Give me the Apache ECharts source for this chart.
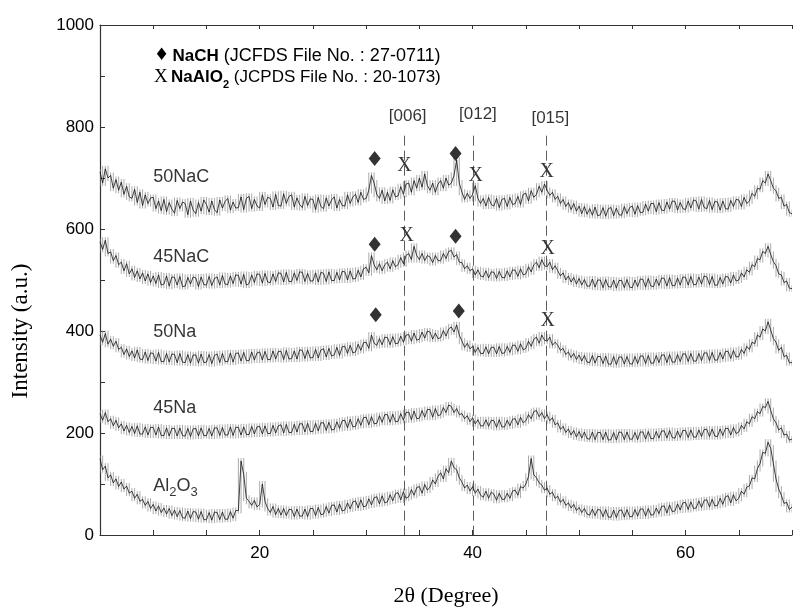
<!DOCTYPE html>
<html><head><meta charset="utf-8">
<script src="https://cdn.jsdelivr.net/npm/echarts@6/dist/echarts.min.js"></script>
<style>html,body{margin:0;padding:0;background:#fff}#c{width:795px;height:612px}</style>
</head><body><div id="c"></div>
<script>
// sampling grid of the patterns (2-theta, degrees)
const X0 = 5, STEP = 0.25;

const s50NaC = [
712,690,718,700, 705,680,697,676, 692,668,684,663, 660,678,652,672, 646,667,650,661,
662,640,655,636, 658,634,652,639, 631,656,640,653, 650,628,655,637, 630,652,635,657,
648,633,655,638, 632,657,641,654, 660,637,653,641, 642,663,638,660, 664,640,658,645,
641,667,648,662, 660,643,668,646, 645,669,650,664, 667,643,661,648, 642,664,646,659,
658,638,662,644, 640,661,645,657, 663,641,658,646, 645,667,650,663, 668,652,672,658,
660,676,705,690, 668,660,676,655, 672,656,677,663, 665,683,668,688, 690,672,695,680,
700,682,708,685, 676,690,672,688, 695,680,700,686, 690,705,735,690, 672,658,670,660,
668,685,660,650, 660,645,662,648, 645,660,642,658, 660,644,662,648, 650,664,648,668,
670,655,675,662, 668,684,672,688, 676,666,672,658, 664,650,658,644, 652,638,650,635,
645,630,644,629, 640,627,643,626, 628,642,625,640, 642,626,641,628, 627,644,630,642,
645,629,646,632, 633,649,635,650, 650,634,652,637, 636,653,639,655, 654,637,652,640,
638,655,641,657, 655,639,658,642, 640,656,638,654, 653,637,655,640, 639,656,644,658,
657,644,662,650, 655,670,664,680, 678,695,690,708, 695,680,675,660, 662,645,648,632,
630];

const s45NaC = [
575,560,578,552, 555,538,548,530, 535,518,532,512, 522,505,518,502, 514,498,512,495,
508,493,510,490, 492,508,488,506, 505,490,507,487, 488,505,492,506, 504,487,506,491,
490,507,489,503, 506,490,509,492, 491,508,493,510, 509,492,511,490, 493,510,495,512,
511,494,513,496, 495,512,497,514, 513,496,515,497, 497,514,499,516, 515,497,513,498,
498,514,496,515, 513,497,516,499, 499,515,500,517, 516,500,518,502, 503,519,506,522,
525,514,548,530, 520,532,518,530, 535,522,538,526, 530,544,532,548, 552,540,566,548,
540,552,538,548, 545,534,548,538, 538,552,542,556, 558,545,550,535, 534,522,528,518,
522,510,520,508, 506,518,504,516, 515,503,517,505, 504,518,506,520, 519,507,522,510,
512,526,516,530, 535,524,540,528, 526,535,520,528, 518,508,514,500, 508,496,505,492,
503,490,501,488, 488,502,486,500, 500,485,501,487, 486,500,484,499, 499,485,501,486,
485,500,487,502, 501,486,503,488, 487,502,489,504, 503,488,505,489, 489,504,490,506,
505,490,507,491, 491,506,492,508, 506,491,507,490, 490,505,492,507, 506,494,510,498,
500,514,506,520, 515,530,526,542, 540,556,552,566, 550,536,528,512, 510,495,498,484,
483];

const s50Na = [
392,378,395,374, 384,370,380,364, 368,354,365,350, 361,347,363,345, 344,359,342,357,
356,341,358,340, 340,356,339,355, 354,338,356,339, 338,354,337,353, 353,337,355,338,
339,354,336,352, 355,338,356,340, 340,357,339,356, 357,341,358,342, 342,359,343,357,
359,343,360,344, 344,361,345,360, 360,344,362,345, 346,361,345,363, 362,346,363,347,
348,364,347,363, 365,349,366,351, 353,368,352,369, 370,356,372,357, 359,374,362,377,
378,366,392,376, 372,385,373,388, 387,373,389,375, 376,390,378,392, 393,380,396,382,
384,398,386,400, 398,384,396,385, 387,401,390,404, 408,398,412,392, 380,368,376,365,
370,358,368,356, 356,369,355,368, 368,355,370,356, 357,370,358,372, 372,360,375,363,
366,380,370,384, 388,376,392,382, 380,388,372,378, 372,362,366,354, 359,348,356,344,
353,341,352,339, 338,352,337,350, 350,336,351,335, 335,350,334,349, 349,335,350,336,
335,350,336,351, 351,336,352,337, 337,352,338,353, 353,338,354,339, 339,354,340,355,
355,340,356,341, 341,356,342,357, 357,342,358,343, 343,358,345,360, 360,346,362,349,
350,364,356,370, 364,378,375,392, 388,404,400,418, 402,385,378,362, 368,350,352,338,
338];

const s45Na = [
238,225,240,222, 228,214,225,210, 218,204,215,201, 213,199,214,198, 198,212,196,211,
211,196,212,195, 195,210,194,209, 209,194,210,195, 194,209,193,208, 209,194,210,195,
195,209,194,210, 210,195,211,196, 196,212,195,211, 211,196,212,197, 197,213,198,212,
213,198,214,199, 199,215,200,214, 216,200,217,201, 201,217,202,218, 218,202,219,203,
203,219,204,220, 220,205,221,206, 207,222,209,224, 225,210,227,212, 213,228,215,230,
231,216,232,218, 219,234,221,236, 236,221,237,222, 223,238,225,240, 241,226,243,228,
229,244,231,246, 246,231,248,234, 236,250,240,255, 252,240,248,236, 238,228,234,222,
230,218,226,214, 214,226,213,225, 224,211,226,212, 212,225,214,227, 228,216,231,220,
224,236,228,242, 244,232,240,228, 236,224,230,216, 220,207,213,201, 208,196,205,192,
203,190,202,189, 188,202,187,201, 201,187,202,186, 187,201,186,202, 201,187,202,188,
188,201,187,202, 202,188,203,189, 189,203,190,204, 204,190,205,191, 190,204,191,205,
205,191,206,192, 192,206,193,207, 207,193,208,194, 193,208,195,209, 209,196,211,199,
202,215,208,222, 218,232,228,242, 238,252,250,262, 244,228,220,206, 210,196,198,186,
188];

const sAl2O3 = [
150,128,135,112, 118,102,110,95, 104,90,96,82, 86,72,80,66, 70,58,66,52,
60,47,57,44, 53,41,52,38, 49,36,48,34, 33,47,32,46, 45,31,46,30,
30,44,29,45, 44,30,45,31, 31,46,33,48, 48,145,118,72, 66,58,68,55,
60,100,66,52, 44,56,40,52, 39,52,38,50, 50,36,51,37, 37,51,36,52,
52,38,54,40, 41,56,43,58, 59,45,61,47, 49,63,51,65, 67,53,69,55,
57,71,59,73, 75,61,77,63, 65,79,67,81, 83,69,85,72, 75,89,78,93,
95,82,99,88, 94,108,100,115, 122,110,130,122, 145,132,128,112, 104,92,98,86,
95,82,90,78, 74,86,72,84, 80,68,82,70, 70,82,72,86, 88,78,95,92,
100,115,150,118, 112,102,98,88, 92,80,84,72, 76,64,70,58, 63,53,60,48,
54,44,52,41, 39,51,38,50, 49,36,50,35, 35,49,34,48, 49,35,50,36,
36,50,37,51, 51,37,52,39, 40,53,42,56, 57,43,59,46, 47,61,49,63,
64,50,65,52, 53,67,54,68, 69,55,70,57, 58,72,60,75, 77,63,79,67,
72,86,80,94, 96,112,110,130, 140,162,160,182, 170,140,110,90, 78,62,64,50,
55];

const sampleNames = ['50NaC', '45NaC', '50Na', '45Na', 'Al2O3'];
const sampleLabelPos = [[10, 702], [10, 546], [10, 398], [10, 248], [10, 96]];
const nachMarks = [[30.8, 738], [38.4, 748], [30.8, 570], [38.4, 586], [30.9, 432], [38.7, 439]];
const naalo2Marks = [[33.6, 725], [40.3, 705], [46.95, 713], [33.8, 586], [47.05, 562], [47.05, 420]];
const refLinesX = [33.6, 40.1, 46.95];
const refLineTop = 783;
const refLabels = ['[006]', '[012]', '[015]'];
const refLabelPos = [[33.9, 820], [40.5, 824], [47.3, 818]];
const yTickLabels = [0, 200, 400, 600, 800, 1000];
const xTickLabels = [20, 40, 60];

const SANS = '"Liberation Sans", Arial, sans-serif';
const SERIF = '"Liberation Serif", "Times New Roman", serif';

const toPairs = arr => arr.map((v, i) => [X0 + i * STEP, v]);
const patterns = [s50NaC, s45NaC, s50Na, s45Na, sAl2O3];

const chart = echarts.init(document.getElementById('c'), null, {renderer: 'canvas'});

// grey vertical hatch strokes (scan noise look) drawn at every sample
const hatchSeries = patterns.map((arr, k) => ({
  type: 'custom', name: sampleNames[k] + '-hatch', silent: true, animation: false, z: 1,
  clip: true,
  data: toPairs(arr),
  renderItem: (params, api) => {
    const i = params.dataIndex;
    const p = api.coord([api.value(0), api.value(1)]);
    const prev = arr[Math.max(0, i - 1)], next = arr[Math.min(arr.length - 1, i + 1)];
    const hi = api.coord([api.value(0), Math.max(arr[i], prev, next)]);
    const lo = api.coord([api.value(0), Math.min(arr[i], prev, next)]);
    return {
      type: 'line', silent: true,
      shape: {x1: p[0], y1: hi[1] - 3, x2: p[0], y2: lo[1] + 3},
      style: {stroke: '#959595', lineWidth: 0.8}
    };
  }
}));

const lineSeries = patterns.map((arr, k) => ({
  type: 'line', name: sampleNames[k], data: toPairs(arr), showSymbol: false, symbol: 'none',
  sampling: null, silent: true, animation: false, z: 2,
  lineStyle: {color: '#111', width: 0.8}
}));

const axisLineStyle = {color: '#333', width: 1.2};

const option = {
  animation: false,
  backgroundColor: '#fff',
  grid: {left: 100, right: -3, top: 25, bottom: 75, containLabel: false},
  xAxis: [{
    type: 'value', min: 5, max: 70, interval: 5,
    axisLine: {show: true, lineStyle: axisLineStyle},
    axisTick: {show: true, inside: true, length: 5, lineStyle: {color: '#333'}},
    splitLine: {show: false},
    axisLabel: {
      fontFamily: SANS, fontSize: 17, color: '#000', margin: 10,
      formatter: v => (xTickLabels.indexOf(v) >= 0 ? String(v) : '')
    },
    name: '2θ (Degree)', nameLocation: 'middle', nameGap: 50,
    nameTextStyle: {fontFamily: SERIF, fontSize: 22, color: '#000'}
  }, {
    type: 'value', min: 5, max: 70, interval: 5, position: 'top',
    axisLine: {show: true, lineStyle: axisLineStyle},
    axisTick: {show: true, inside: true, length: 4, lineStyle: {color: '#333'}},
    axisLabel: {show: false}, splitLine: {show: false}
  }],
  yAxis: {
    type: 'value', min: 0, max: 1000, interval: 100,
    axisLine: {show: true, lineStyle: axisLineStyle},
    axisTick: {show: true, inside: true, length: 5, lineStyle: {color: '#333'}},
    splitLine: {show: false},
    axisLabel: {
      fontFamily: SANS, fontSize: 17, color: '#000', margin: 6,
      formatter: v => (yTickLabels.indexOf(v) >= 0 ? String(v) : '')
    }
  },
  graphic: [
    {
      type: 'text', x: 21, y: 331, rotation: Math.PI / 2,
      style: {text: 'Intensity (a.u.)', fontFamily: SERIF, fontSize: 23, fill: '#000',
        align: 'center', verticalAlign: 'middle'}
    },
    {
      type: 'text', x: 154, y: 44,
      style: {
        text: '{d|♦} {b|NaCH}{n| (JCFDS File No. : 27-0711)}',
        rich: {
          d: {fontFamily: 'DejaVu Sans', fontSize: 17, fill: '#000', lineHeight: 24, verticalAlign: 'middle'},
          b: {fontFamily: SANS, fontSize: 17, fontWeight: 'bold', fill: '#000', lineHeight: 24, verticalAlign: 'middle'},
          n: {fontFamily: SANS, fontSize: 18, fill: '#000', lineHeight: 24, verticalAlign: 'middle'}
        }
      }
    },
    {
      type: 'text', x: 154, y: 64,
      style: {
        text: '{x|X} {b|NaAlO}{s|2}{n| (JCPDS File No. : 20-1073)}',
        rich: {
          x: {fontFamily: SERIF, fontSize: 19, fill: '#000', lineHeight: 26, verticalAlign: 'middle'},
          b: {fontFamily: SANS, fontSize: 17, fontWeight: 'bold', fill: '#000', lineHeight: 26, verticalAlign: 'middle'},
          s: {fontFamily: SANS, fontSize: 11, fontWeight: 'bold', fill: '#000', lineHeight: 10, verticalAlign: 'bottom'},
          n: {fontFamily: SANS, fontSize: 17, fill: '#000', lineHeight: 26, verticalAlign: 'middle'}
        }
      }
    }
  ],
  series: [
    ...hatchSeries,
    ...lineSeries,
    {
      type: 'scatter', name: 'labels', silent: true, symbolSize: 0, z: 3,
      data: sampleLabelPos.map((p, i) => [p[0], p[1], sampleNames[i]]),
      label: {
        show: true, position: 'right', distance: 0,
        formatter: p => p.data[2] === 'Al2O3' ? '{a|Al}{s|2}{a|O}{s|3}' : '{a|' + p.data[2] + '}',
        rich: {
          a: {fontFamily: SANS, fontSize: 18, color: '#000', lineHeight: 26, verticalAlign: 'middle'},
          s: {fontFamily: SANS, fontSize: 13, color: '#000', lineHeight: 12, verticalAlign: 'bottom'}
        }
      },
      markLine: {
        silent: true, symbol: 'none', animation: false,
        label: {show: false},
        lineStyle: {color: '#333', width: 0.8, type: [10, 5]},
        data: refLinesX.map(x => [{coord: [x, refLineTop]}, {coord: [x, 0]}])
      }
    },
    {
      type: 'scatter', name: 'refLabels', silent: true, symbolSize: 0, z: 3,
      data: refLabelPos.map((p, i) => [p[0], p[1], refLabels[i]]),
      label: {show: true, position: 'inside', formatter: p => p.data[2],
        fontFamily: SANS, fontSize: 17, color: '#000'}
    },
    {
      type: 'scatter', name: 'NaCH', silent: true, symbol: 'diamond', symbolSize: [12, 15], z: 3,
      itemStyle: {color: '#000'}, data: nachMarks
    },
    {
      type: 'scatter', name: 'NaAlO2', silent: true, symbolSize: 0, data: naalo2Marks, z: 3,
      label: {show: true, position: 'inside', formatter: 'X', fontFamily: SERIF, fontSize: 20, color: '#000'}
    }
  ]
};
chart.setOption(option);
</script>
</body></html>
